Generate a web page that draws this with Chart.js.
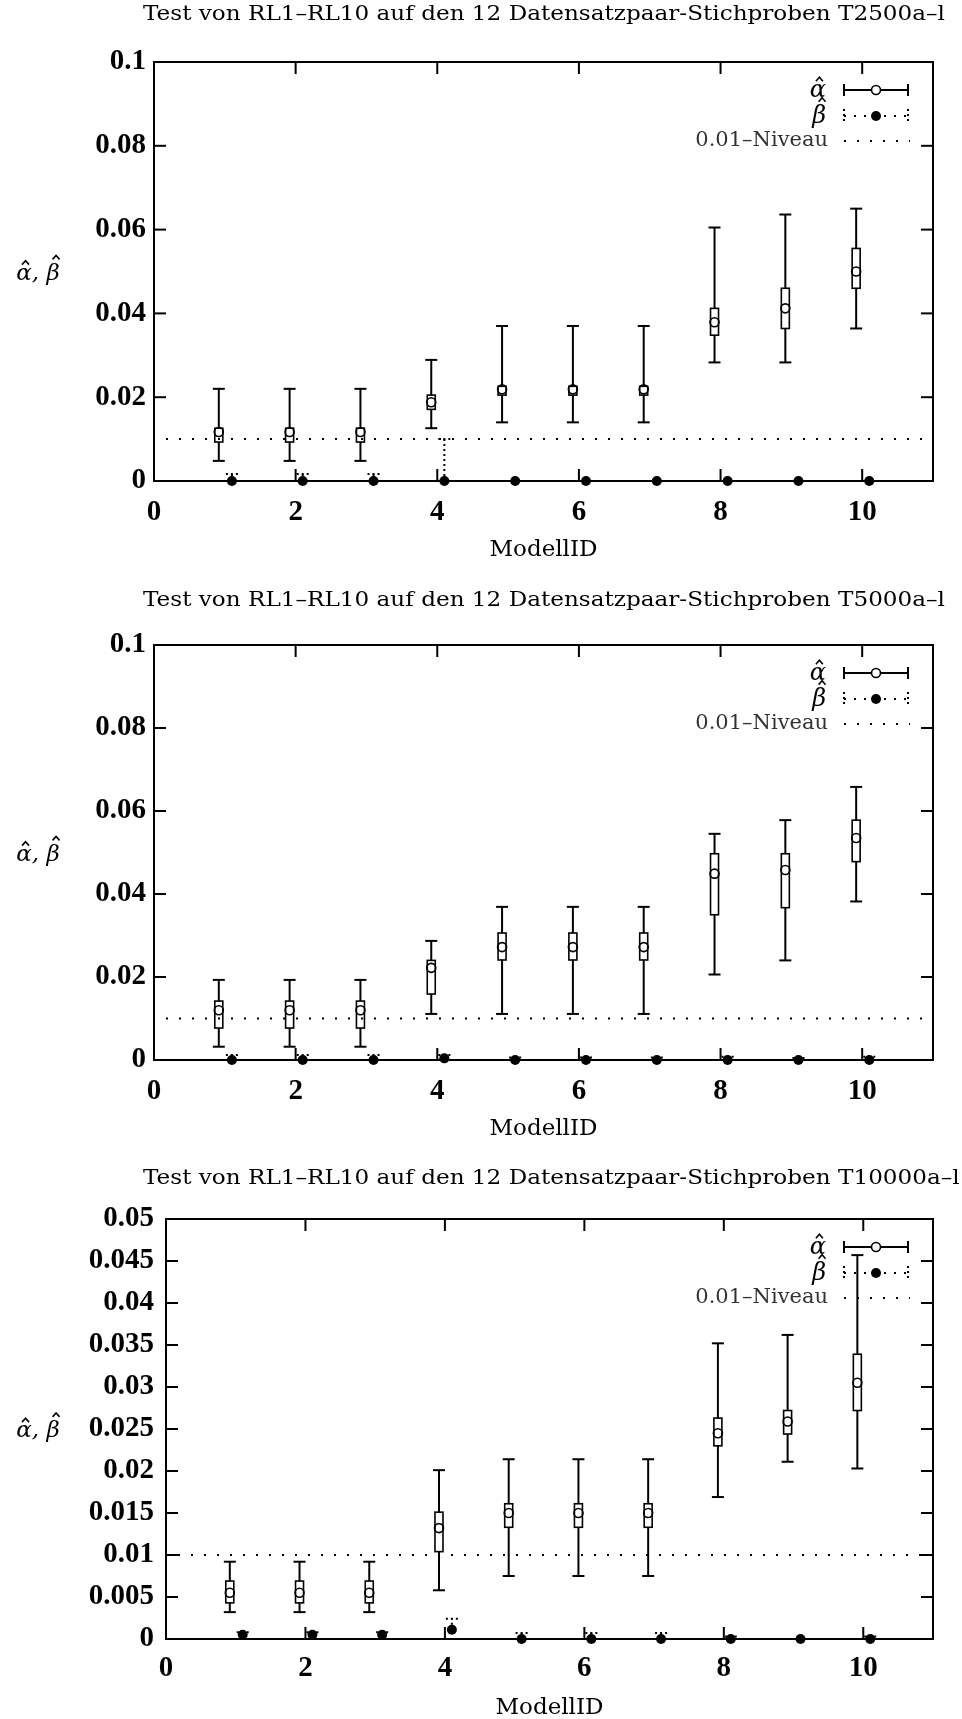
<!DOCTYPE html>
<html>
<head>
<meta charset="utf-8">
<script src="https://cdn.jsdelivr.net/npm/chart.js@4.4.1/dist/chart.umd.min.js"></script>
<style>
    html, body { margin: 0; padding: 0; background: #fff; }
    .panel { position: absolute; left: 0; width: 962px; }
</style>
</head>
<body>
<div class="panel" style="top:0;height:575px"><canvas id="c1"></canvas></div>
<div class="panel" style="top:575px;height:575px"><canvas id="c2"></canvas></div>
<div class="panel" style="top:1150px;height:569px"><canvas id="c3"></canvas></div>

<script>
// --- DATA ---
const models = [1, 2, 3, 4, 5, 6, 7, 8, 9, 10];
const xTickValues = [0, 2, 4, 6, 8, 10];
const yTicksWide = [0, 0.02, 0.04, 0.06, 0.08, 0.1];
const yLabelsWide = ['0', '0.02', '0.04', '0.06', '0.08', '0.1'];
const yTicksNarrow = [0, 0.005, 0.01, 0.015, 0.02, 0.025, 0.03, 0.035, 0.04, 0.045, 0.05];
const yLabelsNarrow = ['0', '0.005', '0.01', '0.015', '0.02', '0.025', '0.03', '0.035', '0.04', '0.045', '0.05'];
const niveau = 0.01;
const titles = [
    'Test von RL1–RL10 auf den 12 Datensatzpaar-Stichproben T2500a–l',
    'Test von RL1–RL10 auf den 12 Datensatzpaar-Stichproben T5000a–l',
    'Test von RL1–RL10 auf den 12 Datensatzpaar-Stichproben T10000a–l'
];

// T2500
const alphaMin2500 = [0.0048, 0.0048, 0.0048, 0.0126, 0.014, 0.014, 0.014, 0.0283, 0.0283, 0.0364];
const alphaQ1_2500 = [0.0093, 0.0093, 0.0093, 0.0171, 0.0205, 0.0205, 0.0205, 0.0348, 0.0364, 0.046];
const alphaMed2500 = [0.0117, 0.0117, 0.0117, 0.0188, 0.0219, 0.0219, 0.0219, 0.0379, 0.0412, 0.050];
const alphaQ3_2500 = [0.0126, 0.0126, 0.0126, 0.0205, 0.0226, 0.0226, 0.0226, 0.0412, 0.046, 0.0555];
const alphaMax2500 = [0.022, 0.022, 0.022, 0.0289, 0.037, 0.037, 0.037, 0.0605, 0.0636, 0.065];
const betaMed2500 = [0, 0, 0, 0, 0, 0, 0, 0, 0, 0];
const betaMax2500 = [0.0017, 0.0017, 0.0017, 0.01, 0, 0, 0, 0, 0, 0];

// T5000
const alphaMin5000 = [0.0032, 0.0032, 0.0032, 0.0111, 0.0111, 0.0111, 0.0111, 0.0206, 0.024, 0.0382];
const alphaQ1_5000 = [0.0077, 0.0077, 0.0077, 0.0159, 0.0241, 0.0241, 0.0241, 0.035, 0.0367, 0.0478];
const alphaMed5000 = [0.012, 0.012, 0.012, 0.0222, 0.0272, 0.0272, 0.0272, 0.0449, 0.0458, 0.0535];
const alphaQ3_5000 = [0.0142, 0.0142, 0.0142, 0.024, 0.0306, 0.0306, 0.0306, 0.0497, 0.0497, 0.0578];
const alphaMax5000 = [0.0193, 0.0193, 0.0193, 0.0287, 0.0369, 0.0369, 0.0369, 0.0545, 0.0578, 0.0658];
const betaMed5000 = [0, 0, 0, 0.0004, 0, 0, 0, 0, 0, 0];
const betaMax5000 = [0.0012, 0.0012, 0.0012, 0.0012, 0.0006, 0.0006, 0.0006, 0.0008, 0.0005, 0.0008];

// T10000
const alphaMin10000 = [0.0032, 0.0032, 0.0032, 0.0058, 0.0075, 0.0075, 0.0075, 0.0169, 0.0211, 0.0203];
const alphaQ1_10000 = [0.0043, 0.0043, 0.0043, 0.0104, 0.0133, 0.0133, 0.0133, 0.023, 0.0244, 0.0272];
const alphaMed10000 = [0.0055, 0.0055, 0.0055, 0.0132, 0.015, 0.015, 0.015, 0.0245, 0.0259, 0.0305];
const alphaQ3_10000 = [0.0069, 0.0069, 0.0069, 0.0151, 0.0161, 0.0161, 0.0161, 0.0263, 0.0272, 0.0339];
const alphaMax10000 = [0.0092, 0.0092, 0.0092, 0.0201, 0.0214, 0.0214, 0.0214, 0.0352, 0.0362, 0.0457];
const betaMed10000 = [0.0005, 0.0005, 0.0005, 0.0011, 0, 0, 0, 0, 0, 0];
const betaMax10000 = [0.0008, 0.0008, 0.0008, 0.0024, 0.0007, 0.0007, 0.0007, 0.0003, 0, 0.0003];

// --- STYLE ---
const SERIF = '"DejaVu Serif", serif';
const TICK_FONT = { family: '"Liberation Serif", serif', size: 29, weight: 'bold' };
const ALPHA_SHIFT = -0.085;
const BETA_SHIFT = 0.1;

const panels = {
    c1: { title: titles[0], yMax: 0.1, yTicks: yTicksWide, yLabels: yLabelsWide,
          aMin: alphaMin2500, aQ1: alphaQ1_2500, aMed: alphaMed2500, aQ3: alphaQ3_2500, aMax: alphaMax2500,
          bMed: betaMed2500, bMax: betaMax2500,
          left: 154, top: 62, bottom: 94, titleGap: 47, labelPad: 8, xPad: 14 },
    c2: { title: titles[1], yMax: 0.1, yTicks: yTicksWide, yLabels: yLabelsWide,
          aMin: alphaMin5000, aQ1: alphaQ1_5000, aMed: alphaMed5000, aQ3: alphaQ3_5000, aMax: alphaMax5000,
          bMed: betaMed5000, bMax: betaMax5000,
          left: 154, top: 70, bottom: 90, titleGap: 44, labelPad: 8, xPad: 14 },
    c3: { title: titles[2], yMax: 0.05, yTicks: yTicksNarrow, yLabels: yLabelsNarrow,
          aMin: alphaMin10000, aQ1: alphaQ1_10000, aMed: alphaMed10000, aQ3: alphaQ3_10000, aMax: alphaMax10000,
          bMed: betaMed10000, bMax: betaMax10000,
          left: 166, top: 69, bottom: 80, titleGap: 40, labelPad: 12, xPad: 12 }
};

function hline(ctx, x0, x1, y) { ctx.beginPath(); ctx.moveTo(x0, y); ctx.lineTo(x1, y); ctx.stroke(); }
function vline(ctx, x, y0, y1) { ctx.beginPath(); ctx.moveTo(x, y0); ctx.lineTo(x, y1); ctx.stroke(); }

// small circumflex drawn as a path (combining accents do not sit well on beta)
function hat(ctx, cx, top) {
    ctx.save();
    ctx.setLineDash([]);
    ctx.lineWidth = 1.6;
    ctx.strokeStyle = '#000';
    ctx.beginPath();
    ctx.moveTo(cx - 3.5, top + 4);
    ctx.lineTo(cx, top);
    ctx.lineTo(cx + 3.5, top + 4);
    ctx.stroke();
    ctx.restore();
}

// draws "alpha-hat" / "beta-hat" style letters; returns drawn width
function mathLetter(ctx, ch, x, y, size) {
    ctx.fillText(ch, x, y);
    const w = ctx.measureText(ch).width;
    const tall = ch === '\u03B2';
    hat(ctx, x + w / 2 + (tall ? 3 : 1.5), y - (tall ? 1.05 : 0.82) * size);
    return w;
}

// frame, inward ticks, error bars, legend and texts (gnuplot look)
const gnuplotPlot = {
    id: 'gnuplotPlot',
    beforeDatasetsDraw(chart) {
        const p = panels[chart.canvas.id];
        const { ctx, chartArea: a, scales: { x, y } } = chart;
        ctx.save();
        ctx.strokeStyle = '#000';
        ctx.lineWidth = 2;
        ctx.strokeRect(a.left, a.top, a.width, a.height);
        p.yTicks.forEach(v => {
            const py = y.getPixelForValue(v);
            hline(ctx, a.left, a.left + 12, py);
            hline(ctx, a.right - 12, a.right, py);
        });
        xTickValues.forEach(v => {
            const px = x.getPixelForValue(v);
            vline(ctx, px, a.bottom, a.bottom - 12);
            vline(ctx, px, a.top, a.top + 12);
        });

        // alpha: solid whiskers + box
        models.forEach((m, i) => {
            const px = x.getPixelForValue(m + ALPHA_SHIFT);
            const yMin = y.getPixelForValue(p.aMin[i]);
            const yMax = y.getPixelForValue(p.aMax[i]);
            const yQ1 = y.getPixelForValue(p.aQ1[i]);
            const yQ3 = y.getPixelForValue(p.aQ3[i]);
            ctx.lineWidth = 2;
            vline(ctx, px, yMin, yMax);
            hline(ctx, px - 6, px + 6, yMin);
            hline(ctx, px - 6, px + 6, yMax);
            ctx.lineWidth = 1.6;
            ctx.fillStyle = '#fff';
            ctx.fillRect(px - 4, yQ3, 8, yQ1 - yQ3);
            ctx.strokeRect(px - 4, yQ3, 8, yQ1 - yQ3);
        });

        // beta: dotted whiskers
        ctx.setLineDash([2, 3]);
        ctx.lineWidth = 2;
        models.forEach((m, i) => {
            const px = x.getPixelForValue(m + BETA_SHIFT);
            const y0 = y.getPixelForValue(p.bMed[i]);
            const yMax = y.getPixelForValue(p.bMax[i]);
            if (p.bMax[i] > p.bMed[i]) {
                vline(ctx, px, y0, yMax);
                hline(ctx, px - 6, px + 6, yMax);
            }
        });
        ctx.restore();
    },
    afterDraw(chart) {
        const p = panels[chart.canvas.id];
        const { ctx, chartArea: a } = chart;
        ctx.save();
        ctx.fillStyle = '#000';
        ctx.strokeStyle = '#000';

        // title (stretched to the reference width)
        ctx.font = '20px ' + SERIF;
        const sx = 802 / ctx.measureText(titles[0]).width;
        ctx.textBaseline = 'middle';
        ctx.textAlign = 'left';
        ctx.save();
        ctx.translate(143, a.top - p.titleGap);
        ctx.scale(sx, 1);
        ctx.fillText(p.title, 0, 0);
        ctx.restore();

        // x axis title
        ctx.textAlign = 'center';
        ctx.font = '23px ' + SERIF;
        ctx.fillText('ModellID', (a.left + a.right) / 2, a.bottom + 69);

        // y axis title: alpha-hat, beta-hat
        ctx.textAlign = 'left';
        ctx.textBaseline = 'alphabetic';
        ctx.font = 'italic 23px ' + SERIF;
        const wTot = ctx.measureText('\u03B1, \u03B2').width;
        let cx = 38 - wTot / 2;
        const by = (a.top + a.bottom) / 2 + 8;
        cx += mathLetter(ctx, '\u03B1', cx, by, 23);
        ctx.fillText(', ', cx, by);
        cx += ctx.measureText(', ').width;
        mathLetter(ctx, '\u03B2', cx, by, 23);

        // legend
        const x0 = a.right - 89, x1 = a.right - 25, xm = (x0 + x1) / 2, tx = a.right - 105;
        const r1 = a.top + 28, r2 = a.top + 54, r3 = a.top + 79;
        ctx.font = 'italic 24px ' + SERIF;
        ctx.textBaseline = 'alphabetic';
        const wa = ctx.measureText('\u03B1').width;
        const wb = ctx.measureText('\u03B2').width;
        mathLetter(ctx, '\u03B1', tx - wa - 2, r1 + 7, 24);
        mathLetter(ctx, '\u03B2', tx - wb - 2, r2 + 7, 24);
        ctx.textAlign = 'right';
        ctx.textBaseline = 'middle';
        ctx.font = '21px ' + SERIF;
        ctx.fillStyle = '#333';
        ctx.fillText('0.01\u2013Niveau', tx, r3);

        ctx.lineWidth = 2;
        hline(ctx, x0, x1, r1);
        vline(ctx, x0, r1 - 6, r1 + 6);
        vline(ctx, x1, r1 - 6, r1 + 6);
        ctx.fillStyle = '#fff';
        ctx.lineWidth = 1.6;
        ctx.beginPath(); ctx.arc(xm, r1, 4.5, 0, Math.PI * 2); ctx.fill(); ctx.stroke();

        ctx.lineWidth = 2;
        ctx.setLineDash([2, 3]);
        vline(ctx, x0, r2 - 7, r2 + 7);
        vline(ctx, x1, r2 - 7, r2 + 7);
        ctx.setLineDash([2, 8]);
        hline(ctx, x0, x1, r2);
        ctx.fillStyle = '#000';
        ctx.beginPath(); ctx.arc(xm, r2, 5, 0, Math.PI * 2); ctx.fill();

        ctx.setLineDash([2, 11]);
        hline(ctx, x0, x1 + 2, r3);
        ctx.restore();
    }
};

function makeChart(id) {
    const p = panels[id];
    return new Chart(document.getElementById(id), {
        type: 'scatter',
        data: {
            datasets: [
                {
                    type: 'line',
                    label: '0.01-Niveau',
                    data: [{ x: 0, y: niveau }, { x: 11, y: niveau }],
                    borderColor: '#000',
                    borderWidth: 2,
                    borderDash: [2, 11],
                    borderDashOffset: -12,
                    pointRadius: 0
                },
                {
                    label: 'alpha',
                    data: models.map((m, i) => ({ x: m + ALPHA_SHIFT, y: p.aMed[i] })),
                    pointRadius: 4.5,
                    pointBorderWidth: 1.6,
                    pointBorderColor: '#000',
                    pointBackgroundColor: 'rgba(0,0,0,0)',
                    clip: false
                },
                {
                    label: 'beta',
                    data: models.map((m, i) => ({ x: m + BETA_SHIFT, y: p.bMed[i] })),
                    pointRadius: 5,
                    pointBorderWidth: 0,
                    pointBackgroundColor: '#000',
                    clip: false
                }
            ]
        },
        options: {
            responsive: true,
            maintainAspectRatio: false,
            animation: false,
            events: [],
            layout: { padding: { top: p.top, right: 29, left: 0, bottom: 0 } },
            plugins: { legend: { display: false }, tooltip: { enabled: false }, title: { display: false } },
            scales: {
                x: {
                    type: 'linear', min: 0, max: 11,
                    grid: { display: false, drawTicks: false }, border: { display: false },
                    afterBuildTicks: s => { s.ticks = xTickValues.map(v => ({ value: v })); },
                    ticks: { font: TICK_FONT, color: '#000', padding: p.xPad,
                             maxRotation: 0, autoSkip: false, callback: v => String(v) },
                    afterFit: s => { s.height = p.bottom; }
                },
                y: {
                    type: 'linear', min: 0, max: p.yMax,
                    grid: { display: false, drawTicks: false }, border: { display: false },
                    afterBuildTicks: s => { s.ticks = p.yTicks.map(v => ({ value: v })); },
                    ticks: { font: TICK_FONT, color: '#000', padding: p.labelPad,
                             autoSkip: false, callback: (v, i) => p.yLabels[i] },
                    afterFit: s => { s.width = p.left; }
                }
            }
        },
        plugins: [gnuplotPlot]
    });
}

document.addEventListener('DOMContentLoaded', () => {
    ['c1', 'c2', 'c3'].forEach(makeChart);
});
</script>
</body>
</html>
